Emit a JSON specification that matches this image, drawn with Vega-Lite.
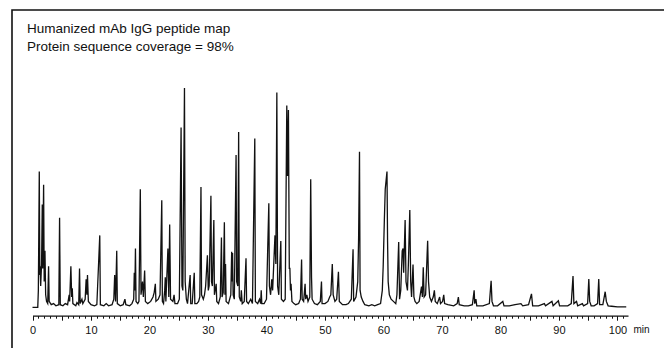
{
  "$schema": "https://vega.github.io/schema/vega-lite/v6.json",
  "width": 700,
  "height": 400,
  "autosize": {"type": "none"},
  "padding": {"left": 12, "top": 10, "right": -48, "bottom": -62},
  "background": "white",
  "config": {"view": {"stroke": "#111111", "strokeWidth": 1.6, "fill": "white"}},
  "title": {
    "text": ["Humanized mAb IgG peptide map", "Protein sequence coverage = 98%"],
    "anchor": "start",
    "frame": "group",
    "orient": "top",
    "offset": -54.7,
    "dx": 15,
    "baseline": "alphabetic",
    "font": "Liberation Sans",
    "fontSize": 13.5,
    "fontWeight": "normal",
    "color": "#111111",
    "lineHeight": 18
  },
  "data": {"values": [
    {"t":0,"y":0.3},{"t":0.9,"y":0.3},{"t":1.0,"y":8},{"t":1.16,"y":62},{"t":1.25,"y":15},{"t":1.3,"y":19},{"t":1.4,"y":10},{"t":1.55,"y":20},{"t":1.67,"y":47},{"t":1.75,"y":18},{"t":1.9,"y":56},{"t":2.0,"y":12},{"t":2.13,"y":26},{"t":2.25,"y":6},{"t":2.4,"y":3},{"t":2.6,"y":2},{"t":2.75,"y":19},{"t":2.85,"y":3},{"t":3.2,"y":1.5},{"t":3.6,"y":2},{"t":4.0,"y":1},{"t":4.5,"y":1.5},{"t":4.63,"y":41},{"t":4.75,"y":1.5},{"t":5.2,"y":1},{"t":5.6,"y":2},{"t":6.0,"y":1.5},{"t":6.15,"y":4},{"t":6.27,"y":6},{"t":6.35,"y":3},{"t":6.56,"y":19},{"t":6.7,"y":5},{"t":6.8,"y":9},{"t":6.9,"y":2},{"t":7.4,"y":1},{"t":7.6,"y":2.5},{"t":7.9,"y":1.5},{"t":8.04,"y":18},{"t":8.15,"y":2},{"t":8.45,"y":4},{"t":8.6,"y":2},{"t":9.0,"y":4},{"t":9.17,"y":13},{"t":9.3,"y":6},{"t":9.4,"y":15},{"t":9.55,"y":3},{"t":10.0,"y":1.5},{"t":10.6,"y":1},{"t":11.0,"y":1.5},{"t":11.5,"y":33},{"t":11.6,"y":1.5},{"t":12.2,"y":1},{"t":12.6,"y":2},{"t":13.0,"y":1},{"t":13.6,"y":1.5},{"t":13.9,"y":4},{"t":14.05,"y":15},{"t":14.2,"y":3},{"t":14.4,"y":26},{"t":14.5,"y":2},{"t":15.0,"y":1},{"t":15.5,"y":1.5},{"t":15.8,"y":4},{"t":15.95,"y":1.5},{"t":16.6,"y":1},{"t":17.0,"y":2},{"t":17.3,"y":4},{"t":17.4,"y":16},{"t":17.5,"y":8},{"t":17.6,"y":27},{"t":17.7,"y":3},{"t":18.0,"y":2},{"t":18.2,"y":3},{"t":18.43,"y":54},{"t":18.55,"y":6},{"t":18.8,"y":12},{"t":18.95,"y":5},{"t":19.17,"y":17},{"t":19.3,"y":3},{"t":19.7,"y":2},{"t":20.2,"y":3},{"t":20.6,"y":5},{"t":20.8,"y":7},{"t":21.0,"y":11},{"t":21.1,"y":3},{"t":21.5,"y":4},{"t":21.8,"y":6},{"t":22.1,"y":49},{"t":22.2,"y":3},{"t":22.4,"y":2},{"t":22.6,"y":8},{"t":22.7,"y":14},{"t":22.8,"y":3},{"t":23.15,"y":27},{"t":23.3,"y":5},{"t":23.45,"y":38},{"t":23.6,"y":4},{"t":24.0,"y":3},{"t":24.2,"y":6},{"t":24.35,"y":2},{"t":24.8,"y":2},{"t":25.1,"y":4},{"t":25.4,"y":82},{"t":25.55,"y":10},{"t":25.7,"y":8},{"t":25.98,"y":100},{"t":26.1,"y":12},{"t":26.3,"y":4},{"t":26.5,"y":2},{"t":26.95,"y":15},{"t":27.05,"y":2},{"t":27.3,"y":2},{"t":27.65,"y":16},{"t":27.75,"y":2},{"t":28.1,"y":2},{"t":28.4,"y":3},{"t":28.6,"y":5},{"t":28.8,"y":55},{"t":28.9,"y":6},{"t":29.2,"y":4},{"t":29.4,"y":6},{"t":29.6,"y":10},{"t":29.9,"y":24},{"t":30.05,"y":8},{"t":30.2,"y":10},{"t":30.5,"y":51},{"t":30.6,"y":12},{"t":30.75,"y":10},{"t":31.0,"y":40},{"t":31.1,"y":6},{"t":31.4,"y":11},{"t":31.5,"y":3},{"t":31.8,"y":2},{"t":32.1,"y":5},{"t":32.3,"y":32},{"t":32.4,"y":5},{"t":32.6,"y":7},{"t":32.8,"y":39},{"t":32.9,"y":6},{"t":33.0,"y":20},{"t":33.1,"y":3},{"t":33.5,"y":2},{"t":33.9,"y":6},{"t":34.05,"y":25.6},{"t":34.15,"y":12},{"t":34.2,"y":25},{"t":34.3,"y":6},{"t":34.5,"y":4},{"t":34.8,"y":69.5},{"t":34.9,"y":12},{"t":35.1,"y":10},{"t":35.24,"y":80},{"t":35.35,"y":5},{"t":35.6,"y":3},{"t":35.7,"y":8},{"t":35.85,"y":2},{"t":36.2,"y":3},{"t":36.5,"y":22.6},{"t":36.6,"y":3},{"t":36.9,"y":2},{"t":37.3,"y":4},{"t":37.6,"y":2},{"t":38.0,"y":77},{"t":38.1,"y":3},{"t":38.5,"y":2},{"t":38.8,"y":4},{"t":39.0,"y":2},{"t":39.1,"y":8},{"t":39.2,"y":2},{"t":39.6,"y":2},{"t":40.0,"y":4},{"t":40.4,"y":47.6},{"t":40.5,"y":10},{"t":40.7,"y":6},{"t":40.9,"y":13},{"t":41.05,"y":8},{"t":41.45,"y":33},{"t":41.6,"y":20},{"t":41.77,"y":98},{"t":41.9,"y":10},{"t":42.1,"y":6},{"t":42.45,"y":30.5},{"t":42.55,"y":4},{"t":42.9,"y":3},{"t":43.2,"y":4},{"t":43.47,"y":92},{"t":43.6,"y":60},{"t":43.75,"y":90},{"t":43.9,"y":18},{"t":44.0,"y":18},{"t":44.1,"y":8},{"t":44.2,"y":11},{"t":44.35,"y":3},{"t":44.7,"y":2},{"t":45.0,"y":1.5},{"t":45.5,"y":2},{"t":45.8,"y":4},{"t":46.0,"y":22},{"t":46.1,"y":4},{"t":46.35,"y":3},{"t":46.6,"y":11},{"t":46.7,"y":4},{"t":46.9,"y":6},{"t":47.1,"y":3},{"t":47.4,"y":5},{"t":47.56,"y":58.5},{"t":47.7,"y":14},{"t":47.8,"y":4},{"t":48.2,"y":2},{"t":48.7,"y":1.5},{"t":49.2,"y":3},{"t":49.4,"y":12},{"t":49.5,"y":2},{"t":50.0,"y":2},{"t":50.5,"y":3},{"t":50.8,"y":5},{"t":51.0,"y":6},{"t":51.25,"y":20},{"t":51.4,"y":6},{"t":51.7,"y":3},{"t":52.0,"y":4},{"t":52.3,"y":16.5},{"t":52.45,"y":3},{"t":53.0,"y":1.5},{"t":53.6,"y":1.5},{"t":54.0,"y":2},{"t":54.5,"y":4},{"t":54.8,"y":26.7},{"t":54.9,"y":3},{"t":55.3,"y":5},{"t":55.6,"y":12},{"t":55.75,"y":32},{"t":55.9,"y":71},{"t":56.0,"y":8},{"t":56.2,"y":5},{"t":56.5,"y":3},{"t":56.8,"y":1.5},{"t":57.5,"y":1},{"t":58.0,"y":1.5},{"t":58.5,"y":1},{"t":59.0,"y":1.5},{"t":59.5,"y":2},{"t":59.8,"y":8},{"t":59.95,"y":19},{"t":60.15,"y":40},{"t":60.3,"y":54},{"t":60.45,"y":58},{"t":60.6,"y":62},{"t":60.7,"y":30},{"t":60.8,"y":12},{"t":61.0,"y":6},{"t":61.3,"y":4},{"t":61.7,"y":3},{"t":62.1,"y":2},{"t":62.3,"y":6},{"t":62.6,"y":30},{"t":62.75,"y":4},{"t":62.95,"y":8},{"t":63.2,"y":26},{"t":63.35,"y":27},{"t":63.45,"y":16},{"t":63.7,"y":40},{"t":63.85,"y":12},{"t":64.1,"y":8},{"t":64.25,"y":19.5},{"t":64.5,"y":44.5},{"t":64.65,"y":12},{"t":64.8,"y":5},{"t":65.05,"y":19.8},{"t":65.2,"y":5},{"t":65.4,"y":3},{"t":65.7,"y":2},{"t":66.1,"y":3},{"t":66.5,"y":9.7},{"t":66.65,"y":5},{"t":66.8,"y":18.5},{"t":66.95,"y":5},{"t":67.2,"y":6},{"t":67.55,"y":30.6},{"t":67.7,"y":12},{"t":67.9,"y":5},{"t":68.2,"y":3},{"t":68.5,"y":5},{"t":68.7,"y":8},{"t":68.85,"y":3},{"t":69.2,"y":2},{"t":69.6,"y":5},{"t":69.75,"y":2},{"t":70.1,"y":3},{"t":70.3,"y":6},{"t":70.45,"y":2},{"t":71.0,"y":1.5},{"t":72.0,"y":1},{"t":72.6,"y":2},{"t":72.8,"y":5},{"t":72.95,"y":1.5},{"t":73.8,"y":1},{"t":74.5,"y":1},{"t":75.2,"y":1.5},{"t":75.5,"y":8},{"t":75.6,"y":2},{"t":75.8,"y":4},{"t":75.95,"y":1},{"t":77.0,"y":1},{"t":78.1,"y":2},{"t":78.4,"y":12.4},{"t":78.55,"y":3},{"t":78.8,"y":1},{"t":79.5,"y":1},{"t":80.4,"y":3},{"t":80.6,"y":1},{"t":81.5,"y":1},{"t":82.5,"y":1.5},{"t":83.5,"y":2},{"t":83.8,"y":1},{"t":84.8,"y":1.5},{"t":85.3,"y":6.4},{"t":85.5,"y":1},{"t":86.5,"y":1},{"t":87.5,"y":2},{"t":87.7,"y":1},{"t":88.8,"y":3},{"t":89.0,"y":1},{"t":89.9,"y":3.3},{"t":90.1,"y":1},{"t":91.5,"y":1},{"t":92.1,"y":2},{"t":92.4,"y":14.5},{"t":92.55,"y":2},{"t":93.0,"y":3},{"t":93.2,"y":1},{"t":94.0,"y":2},{"t":94.2,"y":1},{"t":94.9,"y":2},{"t":95.1,"y":13.2},{"t":95.25,"y":3},{"t":95.5,"y":1},{"t":96.0,"y":1},{"t":96.6,"y":2},{"t":96.8,"y":13.2},{"t":96.95,"y":1.5},{"t":97.5,"y":1.5},{"t":97.9,"y":7.4},{"t":98.1,"y":3},{"t":98.4,"y":1},{"t":99.0,"y":0.8},{"t":100.0,"y":0.5},{"t":101.5,"y":0.5}
  ]},
  "mark": {"type": "line", "color": "#111111", "strokeWidth": 1.3, "interpolate": "linear"},
  "encoding": {
    "x": {
      "field": "t",
      "type": "quantitative",
      "scale": {"domain": [0, 101.8], "range": [20.5, 616], "nice": false, "zero": false},
      "axis": {
        "values": [0,1,2,3,4,5,6,7,8,9,10,11,12,13,14,15,16,17,18,19,20,21,22,23,24,25,26,27,28,29,30,31,32,33,34,35,36,37,38,39,40,41,42,43,44,45,46,47,48,49,50,51,52,53,54,55,56,57,58,59,60,61,62,63,64,65,66,67,68,69,70,71,72,73,74,75,76,77,78,79,80,81,82,83,84,85,86,87,88,89,90,91,92,93,94,95,96,97,98,99,100,101],
        "offset": -94.3,
        "grid": false,
        "domain": true,
        "domainColor": "#111111",
        "domainWidth": 1.2,
        "ticks": true,
        "tickColor": "#111111",
        "tickWidth": 1,
        "tickSize": {"condition": {"test": "datum.value % 5 === 0", "value": 4.5}, "value": 2.5},
        "labelExpr": "datum.value % 10 === 0 ? datum.label : ''",
        "labelOverlap": false,
        "labelFlush": false,
        "labelFont": "Liberation Sans",
        "labelFontSize": 11,
        "labelColor": "#111111",
        "labelPadding": 4,
        "title": "min",
        "titleFont": "Liberation Sans",
        "titleFontSize": 10,
        "titleFontWeight": "normal",
        "titleColor": "#111111",
        "titleX": 621,
        "titleY": 17,
        "titleAlign": "left",
        "titleBaseline": "alphabetic",
        "titleAngle": 0
      }
    },
    "y": {
      "field": "y",
      "type": "quantitative",
      "scale": {"domain": [0, 100], "range": [298, 78], "nice": false, "zero": false},
      "axis": null
    }
  }
}
